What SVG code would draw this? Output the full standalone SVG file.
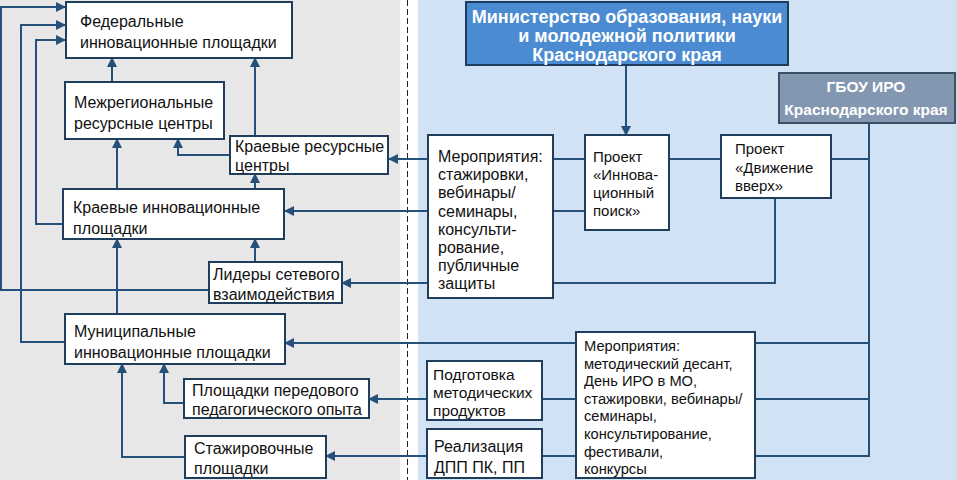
<svg xmlns="http://www.w3.org/2000/svg" width="957" height="480" viewBox="0 0 957 480">
<defs>
<style>
.box{fill:#fff;stroke:#1f3d5c;stroke-width:2}
.t{font-family:"Liberation Sans",Arial,sans-serif;font-size:16px;fill:#111}
.s15{font-size:15px}
.s155{font-size:15.5px}
.s145{font-size:14.7px}
.hd{font-family:"Liberation Sans",Arial,sans-serif;font-weight:bold;fill:#fff;text-anchor:middle}
.c{fill:none;stroke:#24507a;stroke-width:2}
.a{marker-end:url(#ah)}
</style>
<marker id="ah" viewBox="0 0 10 10" refX="9" refY="5" markerWidth="11" markerHeight="10" markerUnits="userSpaceOnUse" orient="auto">
<path d="M0,0 L10,5 L0,10 z" fill="#24507a"/>
</marker>
</defs>
<rect x="0" y="0" width="957" height="480" fill="#fff"/>
<rect x="0" y="0" width="400" height="480" fill="#e7e7e7"/>
<rect x="418" y="0" width="539" height="480" fill="#d0e2f4"/>
<line x1="407.5" y1="0" x2="407.5" y2="480" stroke="#222" stroke-width="1" stroke-dasharray="6,3"/>

<g id="connectors">
<path class="c a" d="M209,290 H1 V7 H65"/>
<path class="c a" d="M65,342 H21 V25 H65"/>
<path class="c a" d="M63,224 H36 V40 H65"/>
<path class="c a" d="M112,82 V58"/>
<path class="c a" d="M255,136 V58"/>
<path class="c a" d="M230,155 H178 V139"/>
<path class="c a" d="M117,189 V139"/>
<path class="c a" d="M255,189 V174"/>
<path class="c a" d="M255,262 V239"/>
<path class="c a" d="M117,314 V239"/>
<path class="c a" d="M184,403 H164 V364"/>
<path class="c a" d="M185,457 H122 V364"/>
<path class="c a" d="M626,65 V135"/>
<path class="c a" d="M869,159 H389"/>
<path class="c a" d="M585,211 H285"/>
<path class="c a" d="M775,198 V283 H342"/>
<path class="c" d="M869,123 V457"/>
<path class="c a" d="M869,343 H285"/>
<path class="c a" d="M869,399 H369"/>
<path class="c a" d="M869,456 H326"/>
</g>

<g id="federal">
<rect class="box" x="66" y="2" width="226" height="56"/>
<text class="t" x="80" y="27">Федеральные</text>
<text class="t" x="80" y="48">инновационные площадки</text>
</g>
<g id="mezhreg">
<rect class="box" x="65" y="82" width="159" height="57"/>
<text class="t" x="74" y="108">Межрегиональные</text>
<text class="t" x="74" y="129">ресурсные центры</text>
</g>
<g id="kraev-res">
<rect class="box" x="230" y="136" width="158" height="38"/>
<text class="t" x="235" y="152">Краевые ресурсные</text>
<text class="t" x="235" y="171">центры</text>
</g>
<g id="kraev-inn">
<rect class="box" x="63" y="189" width="221" height="50"/>
<text class="t" x="73" y="213">Краевые инновационные</text>
<text class="t" x="73" y="234">площадки</text>
</g>
<g id="lidery">
<rect class="box" x="209" y="262" width="133" height="41"/>
<text class="t" x="213" y="280">Лидеры сетевого</text>
<text class="t" x="213" y="300">взаимодействия</text>
</g>
<g id="municipal">
<rect class="box" x="65" y="314" width="220" height="50"/>
<text class="t" x="74" y="337">Муниципальные</text>
<text class="t" x="74" y="358">инновационные площадки</text>
</g>
<g id="peredovoy">
<rect class="box" x="184" y="379" width="185" height="39"/>
<text class="t" x="192" y="396">Площадки передового</text>
<text class="t" x="192" y="415">педагогического опыта</text>
</g>
<g id="stazh">
<rect class="box" x="185" y="436" width="141" height="42"/>
<text class="t" x="194" y="454">Стажировочные</text>
<text class="t" x="194" y="474">площадки</text>
</g>

<g id="ministry">
<rect x="466" y="2" width="322" height="63" fill="#4b8bd2" stroke="#1d3c5e" stroke-width="2"/>
<text class="hd" x="627" y="23" font-size="18">Министерство образования, науки</text>
<text class="hd" x="627" y="42" font-size="18">и молодежной политики</text>
<text class="hd" x="627" y="61" font-size="18">Краснодарского края</text>
</g>
<g id="gbou">
<rect x="779" y="73" width="176" height="50" fill="#8497b0" stroke="#3b4f66" stroke-width="2"/>
<text class="hd" x="866" y="92" font-size="15.5">ГБОУ ИРО</text>
<text class="hd" x="866" y="115" font-size="15.5">Краснодарского края</text>
</g>
<g id="meropr-top">
<rect class="box" x="428" y="135" width="125" height="163"/>
<text class="t" x="438" y="162">Мероприятия:</text>
<text class="t" x="438" y="180">стажировки,</text>
<text class="t" x="438" y="198">вебинары/</text>
<text class="t" x="438" y="217">семинары,</text>
<text class="t" x="438" y="235">консульти-</text>
<text class="t" x="438" y="253">рование,</text>
<text class="t" x="438" y="271">публичные</text>
<text class="t" x="438" y="289">защиты</text>
</g>
<g id="proekt-inn">
<rect class="box" x="585" y="135" width="84" height="95"/>
<text class="t s15" x="593" y="162">Проект</text>
<text class="t s15" x="593" y="180">«Иннова-</text>
<text class="t s15" x="593" y="198">ционный</text>
<text class="t s15" x="593" y="216">поиск»</text>
</g>
<g id="proekt-dv">
<rect class="box" x="721" y="135" width="110" height="63"/>
<text class="t s15" x="735" y="154">Проект</text>
<text class="t s15" x="735" y="173">«Движение</text>
<text class="t s15" x="735" y="191">вверх»</text>
</g>
<g id="meropr-bottom">
<rect class="box" x="576" y="332" width="179" height="146"/>
<text class="t s145" x="584" y="351">Мероприятия:</text>
<text class="t s145" x="584" y="369">методический десант,</text>
<text class="t s145" x="584" y="386">День ИРО в МО,</text>
<text class="t s145" x="584" y="404">стажировки, вебинары/</text>
<text class="t s145" x="584" y="421">семинары,</text>
<text class="t s145" x="584" y="439">консультирование,</text>
<text class="t s145" x="584" y="457">фестивали,</text>
<text class="t s145" x="584" y="474">конкурсы</text>
</g>
<g id="podgotovka">
<rect class="box" x="427" y="361" width="115" height="59"/>
<text class="t s155" x="433" y="380">Подготовка</text>
<text class="t s155" x="433" y="398">методических</text>
<text class="t s155" x="433" y="416">продуктов</text>
</g>
<g id="realizaciya">
<rect class="box" x="427" y="429" width="115" height="49"/>
<text class="t" x="434" y="452">Реализация</text>
<text class="t" x="434" y="473">ДПП ПК, ПП</text>
</g>
</svg>
